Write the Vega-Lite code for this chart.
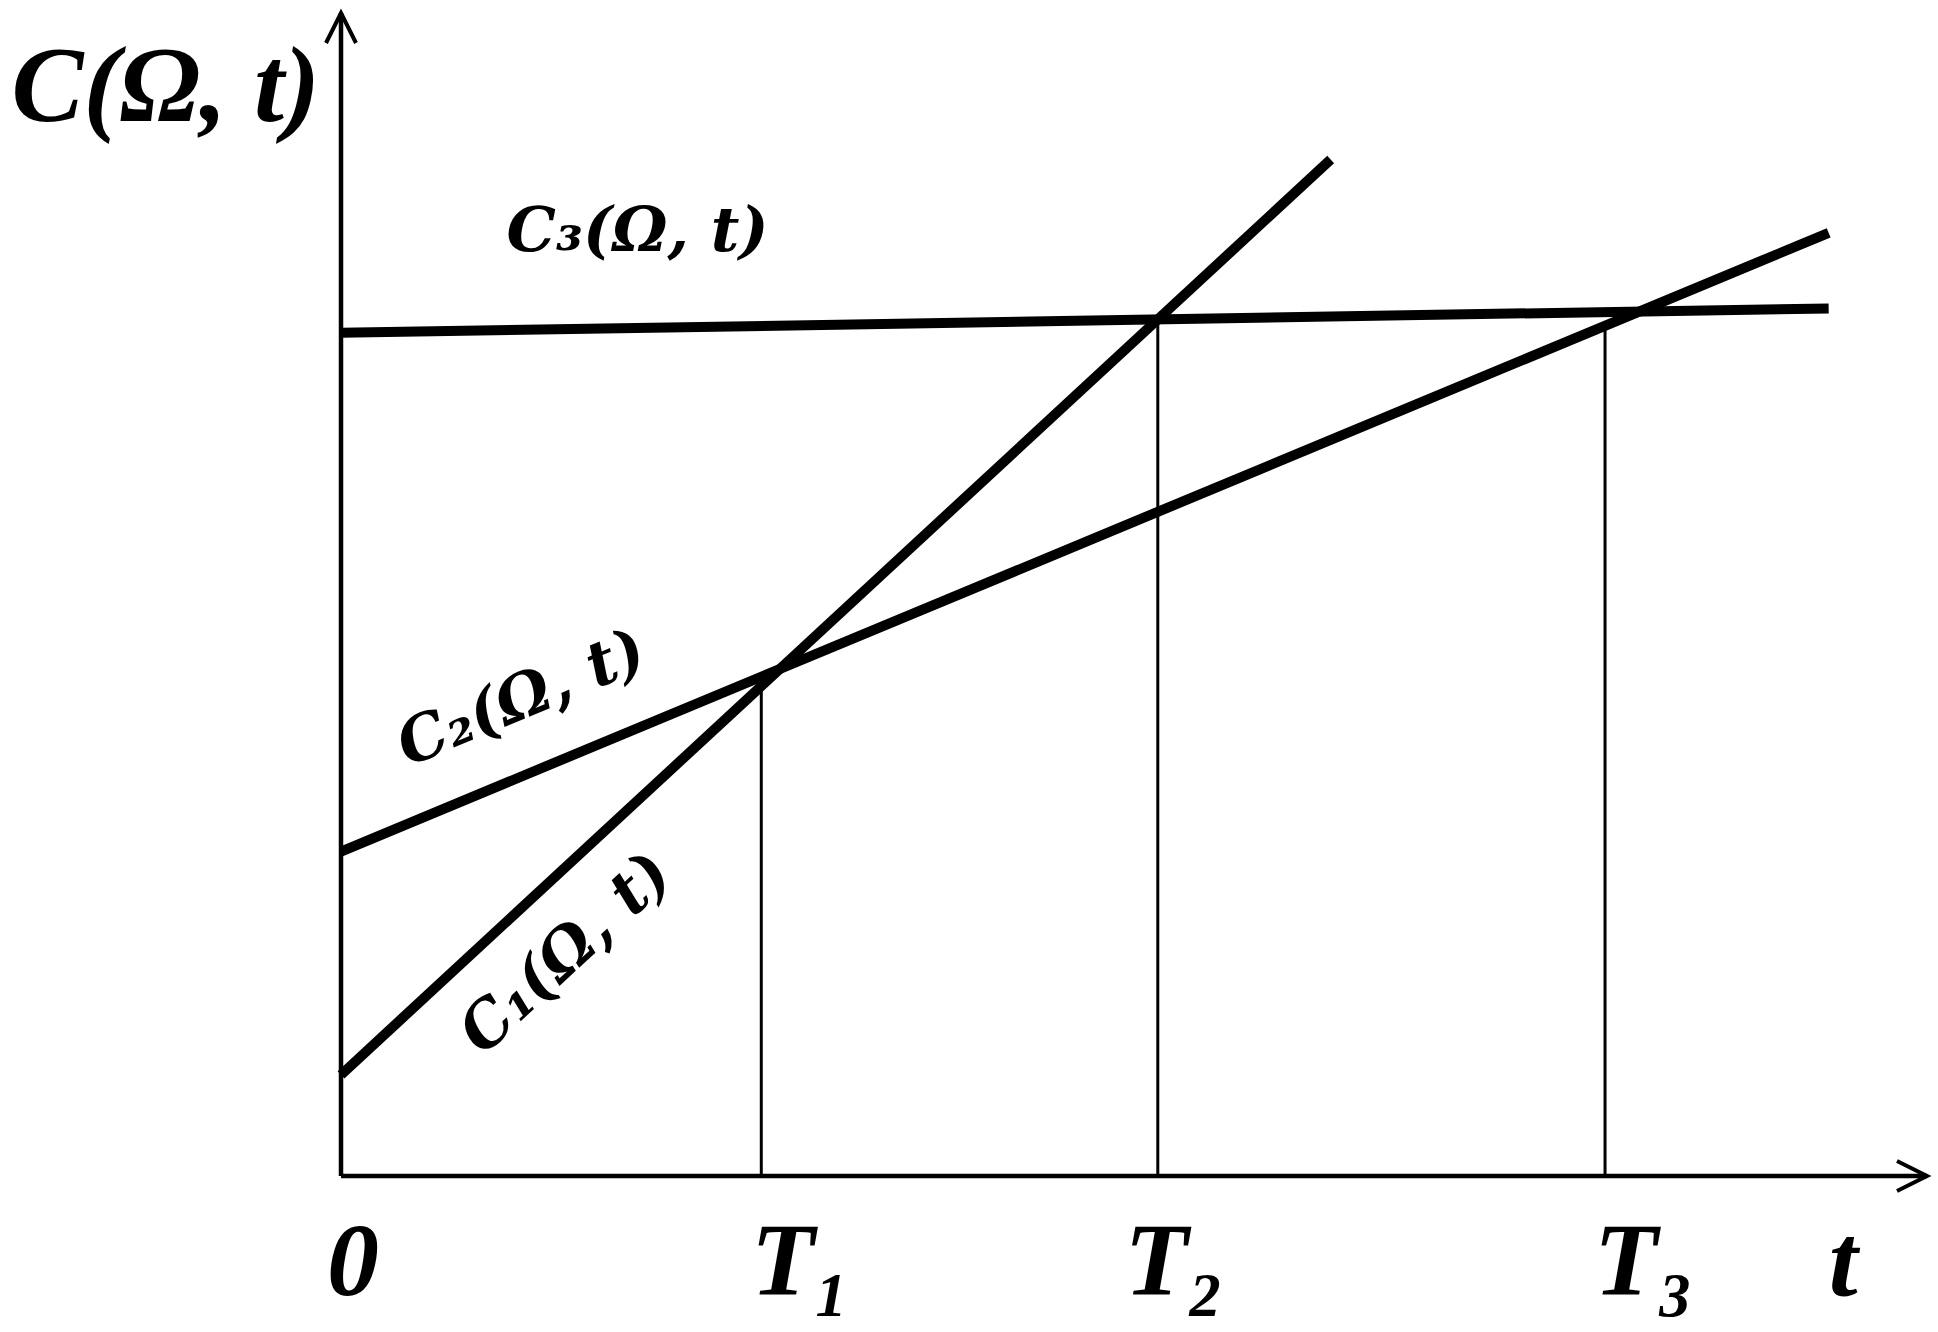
{
  "$schema": "https://vega.github.io/schema/vega-lite/v6.json",
  "width": 1586,
  "height": 1163,
  "autosize": {"type": "none"},
  "padding": {"left": 341, "top": 13, "right": 11, "bottom": 156},
  "background": "white",
  "config": {"view": {"stroke": null}},
  "datasets": {
    "axes": [
      {"x": 0, "y": 0, "x2": 10, "y2": 0},
      {"x": 0, "y": 0, "x2": 0, "y2": 10}
    ],
    "arrows": [
      {"x": 10, "y": 0, "shape": "M -2 -1 L 0 0 L -2 1"},
      {"x": 0, "y": 10, "shape": "M -1 2 L 0 0 L 1 2"}
    ],
    "curves": [
      {"series": "C1", "t": 0, "c": 0.87},
      {"series": "C1", "t": 6.24, "c": 8.74},
      {"series": "C2", "t": 0, "c": 2.79},
      {"series": "C2", "t": 9.38, "c": 8.11},
      {"series": "C3", "t": 0, "c": 7.25},
      {"series": "C3", "t": 9.38, "c": 7.46}
    ],
    "times": [
      {"label": "T1", "t": 2.65, "base": 0, "top": 4.21},
      {"label": "T2", "t": 5.15, "base": 0, "top": 7.36},
      {"label": "T3", "t": 7.97, "base": 0, "top": 7.28}
    ],
    "mainLabel": [
      {"text": "C(Ω, t)", "x": -1.105, "y": 9.35}
    ],
    "curveLabels": [
      {"text": "C₃(Ω, t)", "x": 1.87, "y": 8.12, "angle": 0},
      {"text": "C₂(Ω, t)", "x": 1.14, "y": 4.1, "angle": -22.6},
      {"text": "C₁(Ω, t)", "x": 1.42, "y": 1.91, "angle": -42.8}
    ],
    "axisLabels": [
      {"text": "0", "x": -0.088, "y": -1.023},
      {"text": "T₁", "x": 2.585, "y": -1.023},
      {"text": "T₂", "x": 4.94, "y": -1.023},
      {"text": "T₃", "x": 7.9, "y": -1.023},
      {"text": "t", "x": 9.38, "y": -1.023}
    ]
  },
  "layer": [
    {
      "data": {"name": "axes"},
      "mark": {"type": "rule", "strokeWidth": 4.5, "color": "black"},
      "encoding": {
        "x": {"field": "x", "type": "quantitative", "scale": {"domain": [0, 10], "nice": false, "zero": false}, "axis": null},
        "y": {"field": "y", "type": "quantitative", "scale": {"domain": [0, 10], "nice": false, "zero": false}, "axis": null},
        "x2": {"field": "x2"},
        "y2": {"field": "y2"}
      }
    },
    {
      "data": {"name": "arrows"},
      "mark": {"type": "point", "filled": false, "size": 900, "strokeWidth": 4, "color": "black", "opacity": 1, "strokeJoin": "miter"},
      "encoding": {
        "x": {"field": "x", "type": "quantitative", "axis": null},
        "y": {"field": "y", "type": "quantitative", "axis": null},
        "shape": {"field": "shape", "type": "nominal", "scale": null, "legend": null}
      }
    },
    {
      "data": {"name": "curves"},
      "mark": {"type": "line", "strokeWidth": 10, "color": "black"},
      "encoding": {
        "x": {"field": "t", "type": "quantitative", "axis": null},
        "y": {"field": "c", "type": "quantitative", "axis": null},
        "detail": {"field": "series", "type": "nominal"}
      }
    },
    {
      "data": {"name": "times"},
      "mark": {"type": "rule", "strokeWidth": 3, "color": "black"},
      "encoding": {
        "x": {"field": "t", "type": "quantitative", "axis": null},
        "y": {"field": "base", "type": "quantitative", "axis": null},
        "y2": {"field": "top"}
      }
    },
    {
      "data": {"name": "mainLabel"},
      "mark": {"type": "text", "font": "Liberation Serif", "fontStyle": "italic", "fontWeight": "bold", "align": "center", "baseline": "middle", "fontSize": 108, "color": "black"},
      "encoding": {
        "x": {"field": "x", "type": "quantitative", "axis": null},
        "y": {"field": "y", "type": "quantitative", "axis": null},
        "text": {"field": "text", "type": "nominal"}
      }
    },
    {
      "data": {"name": "curveLabels"},
      "mark": {"type": "text", "font": "DejaVu Serif", "fontStyle": "italic", "fontWeight": "bold", "align": "center", "baseline": "middle", "fontSize": 62, "color": "black"},
      "encoding": {
        "x": {"field": "x", "type": "quantitative", "axis": null},
        "y": {"field": "y", "type": "quantitative", "axis": null},
        "text": {"field": "text", "type": "nominal"},
        "angle": {"field": "angle", "type": "quantitative", "scale": null}
      }
    },
    {
      "data": {"name": "axisLabels"},
      "mark": {"type": "text", "font": "Liberation Serif", "fontStyle": "italic", "fontWeight": "bold", "align": "left", "baseline": "alphabetic", "fontSize": 104, "color": "black"},
      "encoding": {
        "x": {"field": "x", "type": "quantitative", "axis": null},
        "y": {"field": "y", "type": "quantitative", "axis": null},
        "text": {"field": "text", "type": "nominal"}
      }
    }
  ]
}
